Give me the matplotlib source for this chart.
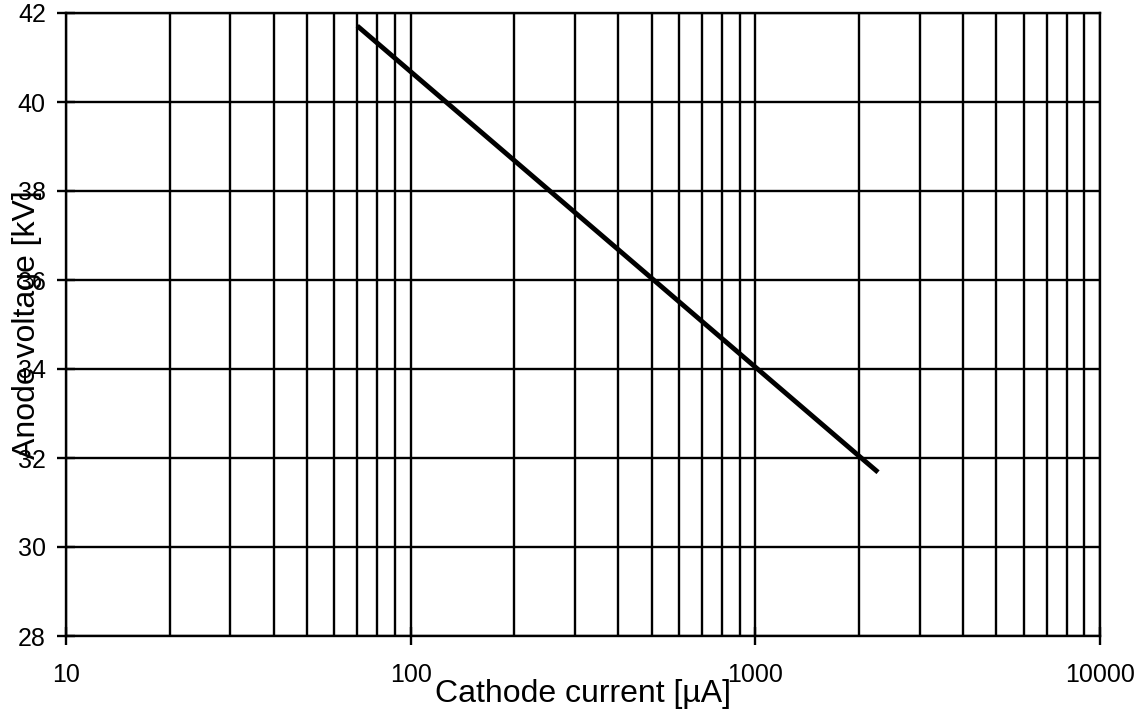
import matplotlib
matplotlib.use('Agg')
import matplotlib.pyplot as plt
from matplotlib.ticker import FixedLocator, NullFormatter, FuncFormatter

plt.rcParams['font.family'] = ['Liberation Sans', 'DejaVu Sans']

# Dados
corrente = [70, 1015, 2030, 2270]          # µA
tensao = [41.71, 34.0, 32.0, 31.68]        # kV
x_ticks = [10, 100, 1000, 10000]
y_ticks = [28, 30, 32, 34, 36, 38, 40, 42]

fig = plt.figure(figsize=(11.45, 7.11), dpi=100)
ax = fig.add_axes([66 / 1145, 75 / 711, 1034 / 1145, 623 / 711])

ax.plot(corrente, tensao, color='black', linewidth=3.5, solid_capstyle='butt')

ax.set_xscale('log')
ax.set_xlim(10, 10000)
ax.set_ylim(28, 42)

# grade maior e menor no eixo x, só maior no y
ax.xaxis.set_major_locator(FixedLocator(x_ticks))
ax.xaxis.set_major_formatter(FuncFormatter(lambda v, p: '%d' % v))
minor = [m * d for d in [10, 100, 1000] for m in range(2, 10)]
ax.xaxis.set_minor_locator(FixedLocator(minor))
ax.xaxis.set_minor_formatter(NullFormatter())
ax.yaxis.set_major_locator(FixedLocator(y_ticks))

ax.grid(True, which='major', axis='both', color='black', linewidth=1.7)
ax.grid(True, which='minor', axis='x', color='black', linewidth=1.7)
ax.set_axisbelow(True)

for s in ax.spines.values():
    s.set_linewidth(1.7)

ax.tick_params(axis='both', which='major', direction='inout', length=13,
               width=1.7, labelsize=18, colors='black',
               top=False, right=False)
ax.tick_params(axis='x', which='major', pad=13)
ax.tick_params(axis='y', which='major', pad=8)
ax.tick_params(axis='x', which='minor', length=0)

ax.set_xlabel('Cathode current [µA]', fontsize=23, va='baseline')
ax.xaxis.set_label_coords(0.5, -0.106)
ax.set_ylabel('Anode voltage [kV]', fontsize=23, va='baseline')
ax.yaxis.set_label_coords(-0.030, 0.5)

fig.savefig('out.png', dpi=100)
